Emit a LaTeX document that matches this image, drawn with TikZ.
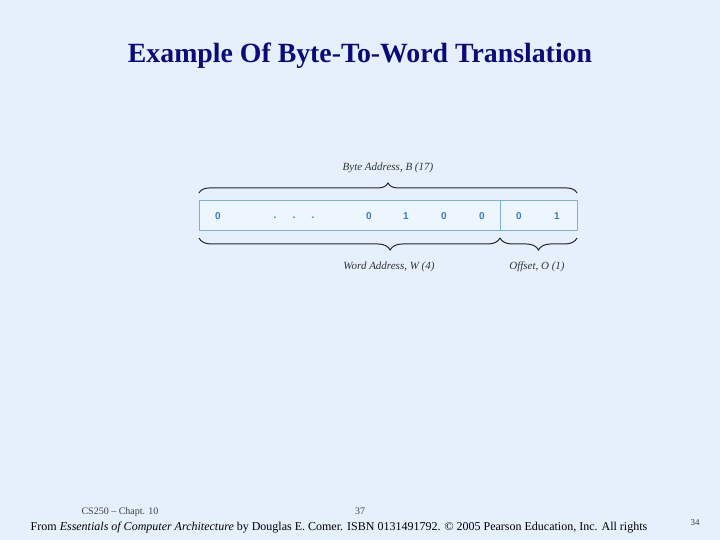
\documentclass[tikz,border=0pt]{standalone}
\usepackage{fontspec}
\setmainfont{Liberation Serif}
\newfontfamily\digitfont{Liberation Sans}
\usetikzlibrary{decorations.pathreplacing}
\definecolor{bg}{HTML}{E6F0FC}
\definecolor{boxfill}{HTML}{EDF5FE}
\definecolor{boxline}{HTML}{7FAEDC}
\definecolor{digit}{HTML}{3A7CC0}
\definecolor{titlec}{HTML}{0A0A78}
\tikzset{
  bit/.style={font=\digitfont\bfseries\fontsize{10}{12}\selectfont, text=digit, inner sep=0pt},
  dotc/.style={font=\digitfont\bfseries\fontsize{10}{12}\selectfont, text=digit, inner sep=0pt},
  lbl/.style={font=\itshape\fontsize{11}{13}\selectfont, text=black!80, inner sep=0pt},
  bracestyle/.style={draw=black!85, line width=1pt, decorate},
  foot/.style={font=\fontsize{12}{14}\selectfont, inner sep=0pt, anchor=base},
  smallfoot/.style={font=\fontsize{10}{12}\selectfont, text=black!75, inner sep=0pt, anchor=base},
}
\begin{document}
\begin{tikzpicture}[x=1pt,y=1pt]
\fill[bg] (0,0) rectangle (720,540);
\useasboundingbox (0,0) rectangle (720,540);
% title
\node[font=\bfseries\fontsize{27.8}{32}\selectfont, text=titlec, inner sep=0pt] (title) at (360,484.5) {Example Of Byte-To-Word Translation};
% register box
\node[draw=boxline, fill=boxfill, line width=1pt, minimum width=301pt, minimum height=30pt, inner sep=0pt] (word) at (349.5,324) {};
\node[draw=boxline, fill=boxfill, line width=1pt, minimum width=77pt, minimum height=30pt, inner sep=0pt] (off) at (538.5,324) {};
% digits
\node[bit] (b0) at (218,324) {0};
\node[dotc] (d1) at (275,322) {.};
\node[dotc] (d2) at (294,322) {.};
\node[dotc] (d3) at (313,322) {.};
\node[bit] (b5) at (369,324) {0};
\node[bit] (b4) at (406,324) {1};
\node[bit] (b3) at (444,324) {0};
\node[bit] (b2) at (482,324) {0};
\node[bit] (b1) at (519,324) {0};
\node[bit] (b00) at (557,324) {1};
% braces
\coordinate (tl) at (199,347);
\coordinate (tr) at (577,347);
\draw[bracestyle, decoration={brace, amplitude=10pt}] (tl) -- (tr);
\node[lbl] (byte) at (388,372) {Byte Address, B (17)};
\coordinate (bl) at (199,302);
\coordinate (bm) at (500,302);
\coordinate (br) at (577,302);
\draw[bracestyle, decoration={brace, amplitude=12pt, aspect=0.365}] (bm) -- (bl);
\draw[bracestyle, decoration={brace, amplitude=12pt, aspect=0.5}] (br) -- (bm);
\node[lbl] (wa) at (389,273) {Word Address, W (4)};
\node[lbl] (oa) at (537,273) {Offset, O (1)};
% footer
\node[smallfoot] (cs) at (120,25) {CS250 -- Chapt. 10};
\node[smallfoot] (pg) at (360,25) {37};
\node[foot] (from) at (339,9.5) {From \textit{Essentials of Computer Architecture} by Douglas E. Comer. ISBN 0131491792. \textcopyright{} 2005 Pearson Education, Inc. All rights};
\node[font=\fontsize{9}{11}\selectfont, text=black!75, inner sep=0pt, anchor=base] (n34) at (695,14) {34};
\end{tikzpicture}
\end{document}
